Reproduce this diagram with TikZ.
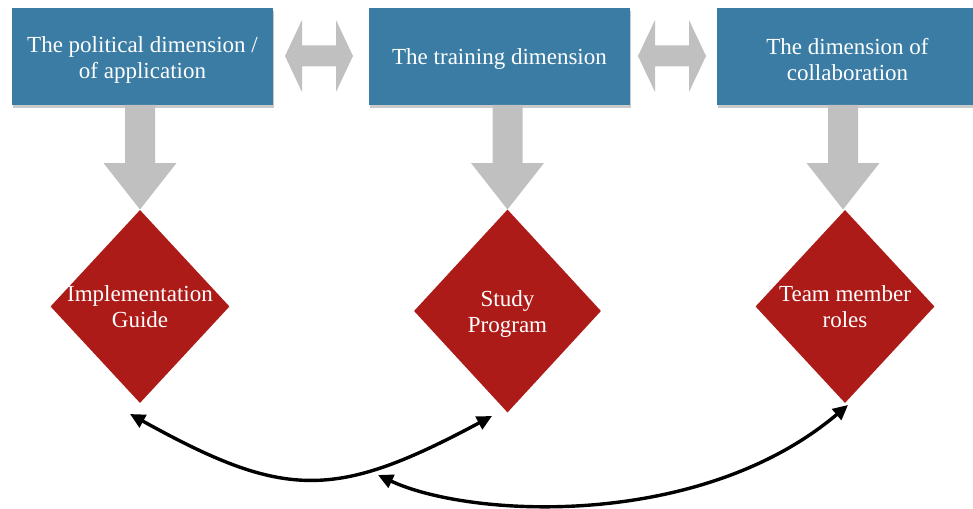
\documentclass[tikz,border=0pt]{standalone}
\usepackage{fontspec}
\setmainfont{Liberation Serif}
\usetikzlibrary{shapes.geometric,shadows,arrows.meta}
\definecolor{boxblue}{RGB}{58,124,163}
\definecolor{diared}{RGB}{173,27,24}
\definecolor{arrgray}{RGB}{192,192,192}
\tikzset{
  dimbox/.style={rectangle, fill=boxblue, inner sep=0pt,
    minimum width=261pt, minimum height=97pt,
    drop shadow={shadow xshift=1pt, shadow yshift=-3pt, opacity=0.35, fill=black!60}},
  boxtext/.style={text=white, align=center, font=\fontsize{23}{26}\selectfont, inner sep=0pt},
  dia/.style={diamond, fill=diared, inner sep=0pt},
  diatext/.style={text=white, align=center, font=\fontsize{23}{26}\selectfont, inner sep=0pt},
  blockarrow/.style={fill=arrgray, draw=none},
  link/.style={line width=3.4pt, {Triangle[length=15pt,width=14pt]}-{Triangle[length=15pt,width=14pt]}}
}
\begin{document}
\begin{tikzpicture}[x=1pt,y=-1pt]
\useasboundingbox (0,0) rectangle (973,508);
% boxes
\node[dimbox] (b1) at (142.5,56.5) {};
\node[dimbox] (b2) at (499.5,56.5) {};
\node[dimbox] (b3) at (847.5,56.5) {};
\node[boxtext] (bt1) at ([yshift=-3.5pt]b1.center) {The political dimension /\\of application};
\node[boxtext] (bt2) at ([yshift=-3pt]b2.center) {The training dimension};
\node[boxtext] (bt3) at ([yshift=-3pt]b3.center) {The dimension of\\collaboration};
% double block arrows
\foreach \cx in {319,672}{
  \fill[blockarrow] (\cx-34,56) -- (\cx-17,20) -- (\cx-17,45.5) -- (\cx+17,45.5) -- (\cx+17,20)
     -- (\cx+34,56) -- (\cx+17,92) -- (\cx+17,66.5) -- (\cx-17,66.5) -- (\cx-17,92) -- cycle;
}
% down block arrows
\foreach \cx in {140,507.5,843}{
  \fill[blockarrow] (\cx-15,105) -- (\cx+15,105) -- (\cx+15,163) -- (\cx+36.5,163)
     -- (\cx,209.5) -- (\cx-36.5,163) -- (\cx-15,163) -- cycle;
}
% diamonds
\node[dia, minimum width=179pt, minimum height=193pt] (d1) at (140,306.5) {};
\node[dia, minimum width=187pt, minimum height=203pt] (d2) at (507.5,311) {};
\node[dia, minimum width=179pt, minimum height=193pt] (d3) at (845,306.5) {};
\node[diatext] (t1) at (d1) {Implementation\\Guide};
\node[diatext] (t2) at ([yshift=-3pt]d2.center) {Study\\Program};
\node[diatext] (t3) at (d3) {Team member\\roles};
% curved links
\coordinate (a1) at (130,414);
\coordinate (a2) at (492,416);
\coordinate (c1) at (378,475);
\coordinate (c2) at (848,405);
\draw[link] (a1) .. controls (285,500) and (335,500) .. (a2);
\draw[link] (c1) .. controls (470,518) and (700,530) .. (c2);
\end{tikzpicture}
\end{document}
